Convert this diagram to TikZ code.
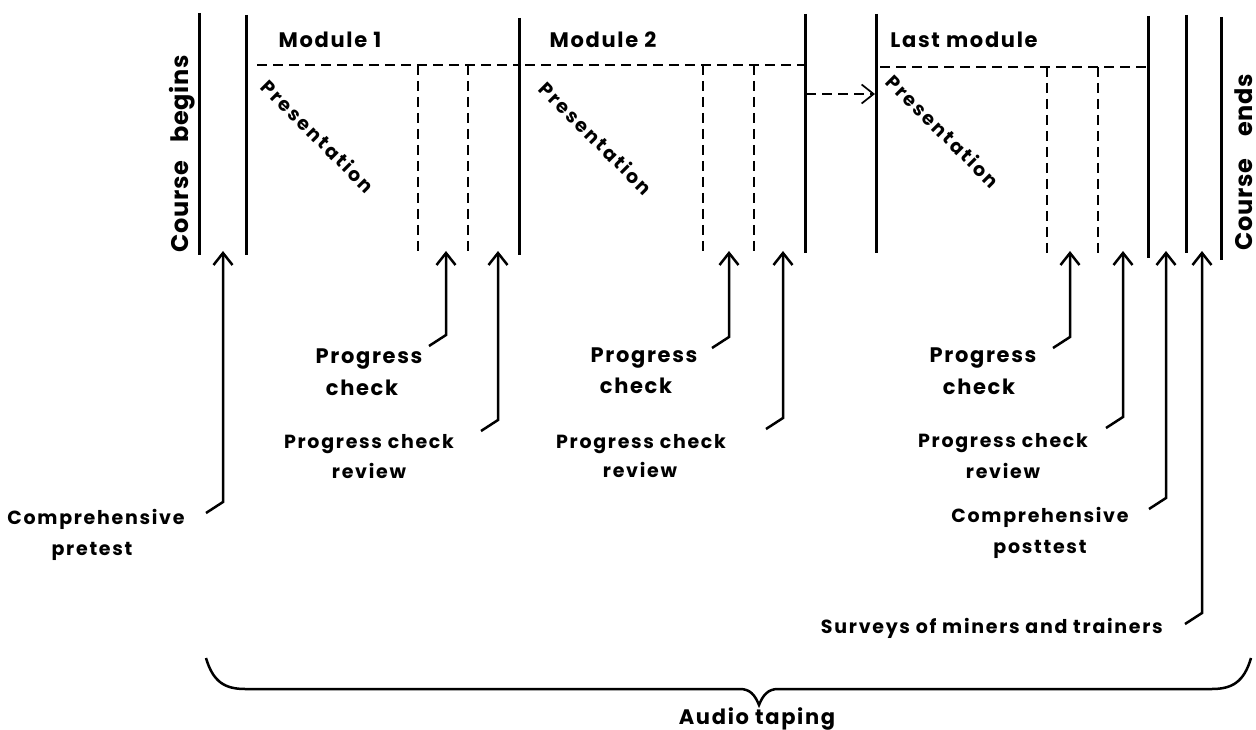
\documentclass[tikz,border=0pt]{standalone}
\usepackage{fontspec}
\setmainfont{Poppins}
\usetikzlibrary{arrows.meta,calc}
\newcommand{\lsp}[1]{\addfontfeature{LetterSpace=#1}}
\newcommand{\karrow}[3]{%
  \coordinate (t#1) at (#2,251);
  \coordinate (k#1) at ($(#2,#3)+(-17,11)$);
  \draw[arr] (k#1) -- ++(17,-11) -- (t#1);
}
\begin{document}
\begin{tikzpicture}[x=1pt,y=-1pt,
  bar/.style={line width=3pt},
  dsh/.style={line width=1.7pt, dash pattern=on 10pt off 6pt},
  arr/.style={line width=2.5pt, -{Straight Barb[length=12pt,width=19pt]}},
  big/.style={font=\fontsize{21}{24}\selectfont\bfseries\lsp{8}, inner sep=0pt, anchor=base},
  crs/.style={font=\fontsize{24}{28}\selectfont\bfseries\lsp{3}, inner sep=0pt, anchor=base, rotate=90},
  small/.style={font=\fontsize{19}{22}\selectfont\bfseries\lsp{9}, inner sep=0pt, anchor=base},
  pres/.style={font=\fontsize{19}{22}\selectfont\bfseries\lsp{12}, rotate=-45, inner sep=0pt},
]
\useasboundingbox (0,0) rectangle (1256,730);

% solid vertical bars
\draw[bar] (199,13) -- (199,255);
\draw[bar] (246,15) -- (246,255);
\draw[bar] (519,18) -- (519,255);
\draw[bar] (805,14) -- (805,253);
\draw[bar] (876,14) -- (876,253);
\draw[bar] (1148,16) -- (1148,258);
\draw[bar] (1186,15) -- (1186,253);
\draw[bar] (1221,17) -- (1221,260);

% dashed module lines
\draw[dsh] (257,65) -- (519,65);
\draw[dsh] (418,65) -- (418,253);
\draw[dsh] (468,65) -- (468,253);
\draw[dsh] (525,65) -- (805,65);
\draw[dsh] (703,65) -- (703,253);
\draw[dsh] (754,65) -- (754,253);
\draw[dsh] (880,67) -- (1148,67);
\draw[dsh] (1047,67) -- (1047,253);
\draw[dsh] (1098,67) -- (1098,253);

% dashed arrow between module 2 and last module
\coordinate (da) at (806,94);
\coordinate (db) at (875,94);
\draw[dsh, -{Straight Barb[length=12pt,width=19pt]}] (da) -- (db);

% module titles
\node[big] (m1) at (330,48) {Module 1};
\node[big] (m2) at (603,48) {Module 2};
\node[big] (lm) at (964,48) {Last module};

% course begins / ends
\node[crs] (cb) at (188,154) {Course\hspace{18pt}begins};
\node[crs, text depth=0pt] (ce) at (1252,162) {Course\hspace{22pt}ends};

% presentation
\node[pres] (p1) at (318,136) {Presentation};
\node[pres] (p2) at (596,138) {Presentation};
\node[pres] (p3) at (943,131) {Presentation};

% progress check labels
\node[big] (pc1) at (369,363) {Progress};
\node[big] (pc1b) at (362,395) {check};
\node[big] (pc2) at (644,362) {Progress};
\node[big] (pc2b) at (636,393) {check};
\node[big] (pc3) at (983,362) {Progress};
\node[big] (pc3b) at (979,394) {check};

% review labels
\node[small] (r1) at (369,448) {Progress check};
\node[small] (r1b) at (369,478) {review};
\node[small] (r2) at (641,448) {Progress check};
\node[small] (r2b) at (640,477) {review};
\node[small] (r3) at (1003,447) {Progress check};
\node[small] (r3b) at (1003,478) {review};

% comprehensive tests
\node[small] (pre) at (96,524) {Comprehensive};
\node[small] (preb) at (92,555) {pretest};
\node[small] (post) at (1040,522) {Comprehensive};
\node[small] (postb) at (1040,553) {posttest};

% surveys
\node[small, anchor=base east] (sv) at (1163,633) {Surveys of miners and trainers};

% arrows
\karrow{1}{223}{502}
\karrow{2}{446}{335}
\karrow{3}{498}{420}
\karrow{4}{729}{337}
\karrow{5}{783}{418}
\karrow{6}{1070}{337}
\karrow{7}{1123}{417}
\karrow{8}{1166}{498}
\karrow{9}{1202}{613}

% brace
\coordinate (bl) at (206,658);
\coordinate (bt) at (759,705);
\coordinate (br) at (1251,658);
\draw[line width=2.5pt] (bl) .. controls (213,682) and (225,689) .. (245,689) -- (740,689)
  .. controls (750,689) and (755,695) .. (bt)
  .. controls (763,695) and (768,689) .. (778,689) -- (1212,689)
  .. controls (1232,689) and (1244,682) .. (br);
\node[big] (audio) at (757,724) {Audio taping};
\end{tikzpicture}
\end{document}
